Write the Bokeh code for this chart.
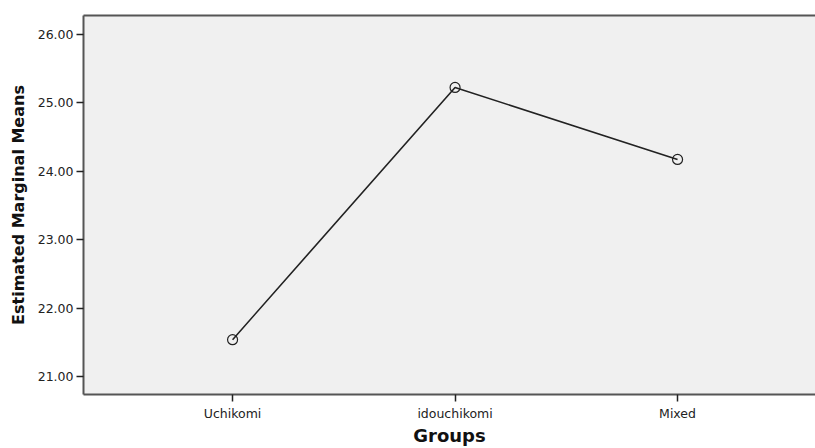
from bokeh.plotting import figure
from bokeh.models import FixedTicker, NumeralTickFormatter, Range1d, LinearAxis
from bokeh.embed import file_html
from bokeh.resources import INLINE

groups = ["Uchikomi", "idouchikomi", "Mixed"]
means = [21.54, 25.22, 24.17]
y_ticks = [21, 22, 23, 24, 25, 26]

xs = list(range(len(groups)))

p = figure(width=815, height=448, output_backend="svg", toolbar_location=None,
           x_range=Range1d(-0.67, 2.62), y_range=Range1d(20.74, 26.27),
           min_border_left=83, min_border_right=0, min_border_top=15, min_border_bottom=54)
p.background_fill_color = "#f0f0f0"
p.border_fill_color = "white"
p.outline_line_color = None
p.grid.visible = False

bottom = p.below[0]
left = p.left[0]

top_axis = LinearAxis(ticker=FixedTicker(ticks=[]), major_label_text_color=None,
                      axis_line_color="#555555", axis_line_width=2,
                      major_tick_line_color=None, minor_tick_line_color=None)
p.add_layout(top_axis, "above")

p.line(xs, means, line_color="#222222", line_width=1.6)
p.scatter(xs, means, size=10, marker="circle", fill_color=None, line_color="#222222", line_width=1.2)

bottom.ticker = FixedTicker(ticks=xs)
bottom.major_label_overrides = {i: g for i, g in enumerate(groups)}
left.ticker = FixedTicker(ticks=y_ticks)
left.formatter = NumeralTickFormatter(format="0.00")

for ax in (bottom, left):
    ax.minor_tick_line_color = None
    ax.axis_line_color = "#555555"
    ax.axis_line_width = 2
    ax.major_tick_line_color = "#222222"
    ax.major_tick_line_width = 1.5
    ax.major_tick_out = 7
    ax.major_tick_in = 0
    ax.major_label_text_font = "DejaVu Sans"
    ax.major_label_text_font_size = "12.5px"
    ax.major_label_text_color = "#222222"
    ax.axis_label_text_font = "DejaVu Sans"
    ax.axis_label_text_font_style = "bold"
    ax.axis_label_text_color = "#111111"

bottom.axis_label = "Groups"
left.axis_label = "Estimated Marginal Means"
bottom.axis_label_text_font_size = "18px"
left.axis_label_text_font_size = "16px"
bottom.major_label_standoff = 4
left.major_label_standoff = 3
bottom.axis_label_standoff = 1
left.axis_label_standoff = 7

open("out.html", "w").write(file_html(p, INLINE))
